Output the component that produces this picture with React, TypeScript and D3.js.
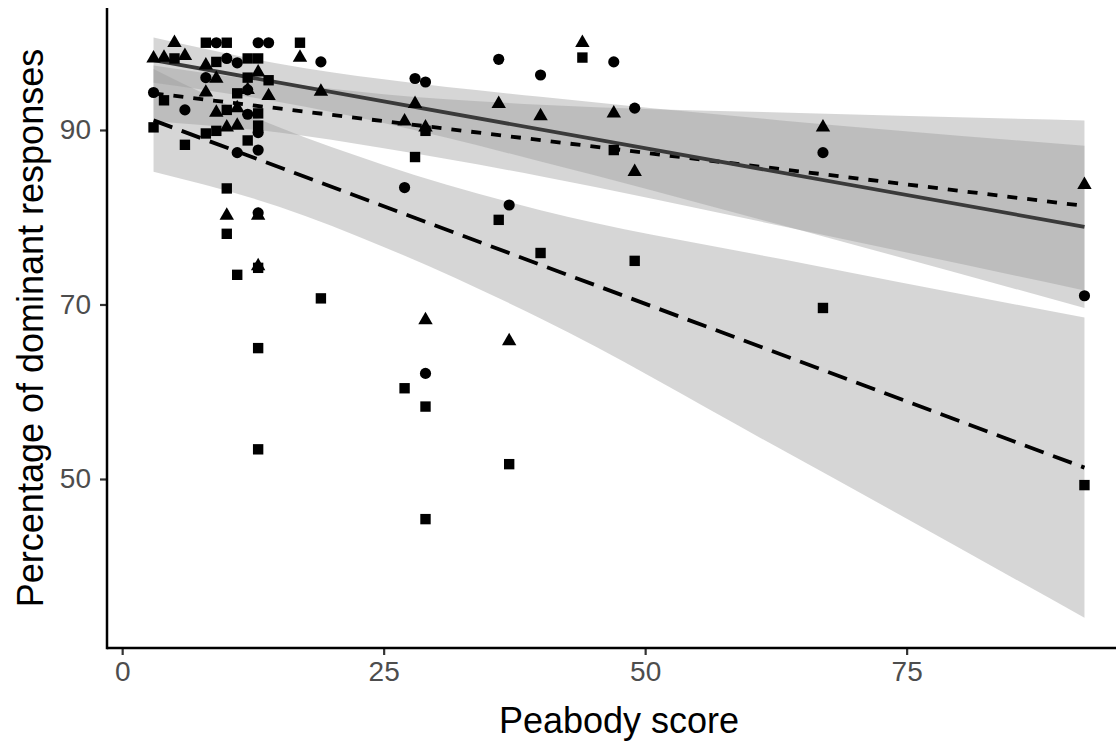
import React, { useEffect, useRef } from 'react';
import * as d3 from 'd3';

// points, one array pair per shape (Peabody score, % dominant responses)
const circleX = [3, 6, 8, 9, 10, 11, 11, 12, 12, 13, 13, 13, 13, 14, 19, 27, 28, 29, 29, 36, 37, 40, 47, 49, 67, 92];
const circleY = [94.3, 92.3, 96, 100, 98.2, 97.7, 87.4, 94.6, 91.8, 100, 89.7, 87.7, 80.5, 100, 97.8, 83.4, 95.9, 95.5, 62.1, 98.1, 81.4, 96.3, 97.8, 92.5, 87.4, 71];

const triangleX = [3, 4, 5, 6, 8, 8, 9, 9, 10, 10, 11, 11, 12, 13, 13, 13, 14, 17, 19, 27, 28, 29, 29, 36, 37, 40, 44, 47, 49, 67, 92];
const triangleY = [98.2, 98.3, 100, 98.5, 97.4, 94.3, 95.9, 92, 80.2, 90.3, 92.5, 90.5, 94.6, 96.6, 80.2, 74.4, 93.9, 98.3, 94.4, 91, 93, 90.3, 68.2, 93, 65.8, 91.6, 100, 91.9, 85.2, 90.3, 83.7];

const squareX = [3, 4, 5, 6, 8, 8, 9, 9, 10, 10, 10, 10, 11, 11, 12, 12, 12, 13, 13, 13, 13, 13, 13, 14, 17, 19, 27, 28, 29, 29, 29, 36, 37, 40, 44, 47, 49, 67, 92];
const squareY = [90.3, 93.4, 98.2, 88.3, 100, 89.6, 97.8, 89.9, 100, 92.3, 83.3, 78.1, 94.2, 73.4, 98.2, 96, 88.8, 98.2, 91.9, 90.5, 74.2, 65, 53.4, 95.7, 100, 70.7, 60.4, 86.9, 89.9, 58.3, 45.4, 79.7, 51.7, 75.9, 98.3, 87.7, 75, 69.6, 49.3];

// fitted lines (ends) and confidence bands
const lineX = [3, 92];
const solidFit = [98.0, 78.9];
const dottedFit = [94.2, 81.3];
const dashedFit = [91.1, 51.3];

const bandX = [3, 15, 25, 40, 63, 92];
const solidHi = [100.6, 97.6, 95.8, 93.8, 91.1, 88.2];
const solidLo = [95.4, 93.2, 90.8, 86.4, 79.1, 69.6];
const dottedHi = [97.4, 95.4, 94.1, 92.9, 92.0, 91.1];
const dottedLo = [91.0, 89.7, 87.9, 84.7, 79.0, 71.6];
const dashedHi = [97.0, 90.3, 86.0, 80.8, 75.2, 68.5];
const dashedLo = [85.2, 81.2, 76.6, 68.4, 53.4, 34.1];

const xTicks = [0, 25, 50, 75];
const yTicks = [50, 70, 90];

export default function App() {
  const ref = useRef<SVGSVGElement>(null);

  useEffect(() => {
    const width = 1116;
    const height = 742;
    const left = 107, right = 1131, top = 8, bottom = 648;
    const font = "'Liberation Sans', Arial, sans-serif";

    const x = d3.scaleLinear().domain([-1.45, 96.45]).range([left, right]);
    const y = d3.scaleLinear().domain([30.63, 103.98]).range([bottom, top]);

    const svg = d3.select(ref.current)
      .attr("width", width)
      .attr("height", height);
    svg.selectAll("*").remove();

    svg.append("rect").attr("width", width).attr("height", height).attr("fill", "white");

    svg.append("clipPath").attr("id", "panel")
      .append("rect")
      .attr("x", left).attr("y", top)
      .attr("width", right - left).attr("height", bottom - top);

    const g = svg.append("g").attr("clip-path", "url(#panel)");

    // confidence ribbons, grey60 at alpha .4 like geom_smooth
    const bands = [
      [dashedHi, dashedLo],
      [dottedHi, dottedLo],
      [solidHi, solidLo],
    ];
    bands.forEach(([hi, lo]) => {
      const ar = d3.area<number>()
        .x((d) => x(bandX[d]))
        .y0((d) => y(lo[d]))
        .y1((d) => y(hi[d]))
        .curve(d3.curveMonotoneX);
      g.append("path")
        .attr("d", ar(d3.range(bandX.length)))
        .attr("fill", "#999999")
        .attr("fill-opacity", 0.4);
    });

    const line = d3.line<number>()
      .x((d, i) => x(lineX[i]))
      .y((d) => y(d));

    g.append("path").attr("d", line(dashedFit))
      .attr("fill", "none").attr("stroke", "black").attr("stroke-width", 3.8)
      .attr("stroke-dasharray", "20,10");
    g.append("path").attr("d", line(dottedFit))
      .attr("fill", "none").attr("stroke", "black").attr("stroke-width", 3.8)
      .attr("stroke-dasharray", "10,10");
    g.append("path").attr("d", line(solidFit))
      .attr("fill", "none").attr("stroke", "#3a3a3a").attr("stroke-width", 3.8);

    const shapes = [
      { xs: circleX, ys: circleY, type: d3.symbolCircle, size: 98 },
      { xs: triangleX, ys: triangleY, type: d3.symbolTriangle, size: 90 },
      { xs: squareX, ys: squareY, type: d3.symbolSquare, size: 108 },
    ];
    shapes.forEach((s) => {
      const sym = d3.symbol().type(s.type).size(s.size);
      g.append("g")
        .selectAll("path")
        .data(d3.range(s.xs.length))
        .enter()
        .append("path")
        .attr("d", sym() as string)
        .attr("fill", "black")
        .attr("transform", (i) => `translate(${x(s.xs[i])},${y(s.ys[i])})`);
    });

    // axes
    const xAxis = svg.append("g")
      .attr("transform", `translate(0,${bottom})`)
      .call(d3.axisBottom(x).tickValues(xTicks).tickSize(7).tickPadding(6).tickFormat(d3.format("d")));
    xAxis.select(".domain").remove();
    xAxis.selectAll(".tick line").attr("stroke", "#333333").attr("stroke-width", 2.2);
    xAxis.selectAll(".tick text")
      .attr("fill", "#4d4d4d").attr("font-size", 28).attr("font-family", font);

    const yAxis = svg.append("g")
      .attr("transform", `translate(${left},0)`)
      .call(d3.axisLeft(y).tickValues(yTicks).tickSize(7).tickPadding(9).tickFormat(d3.format("d")));
    yAxis.select(".domain").remove();
    yAxis.selectAll(".tick line").attr("stroke", "#333333").attr("stroke-width", 2.2);
    yAxis.selectAll(".tick text")
      .attr("fill", "#4d4d4d").attr("font-size", 28).attr("font-family", font);

    svg.append("line")
      .attr("x1", left).attr("x2", width).attr("y1", bottom).attr("y2", bottom)
      .attr("stroke", "black").attr("stroke-width", 2.5);
    svg.append("line")
      .attr("x1", left).attr("x2", left).attr("y1", top).attr("y2", bottom + 1.25)
      .attr("stroke", "black").attr("stroke-width", 2.5);

    svg.append("text")
      .attr("x", (left + right) / 2).attr("y", 733)
      .attr("text-anchor", "middle")
      .attr("font-family", font).attr("font-size", 36).attr("fill", "black")
      .text("Peabody score");

    svg.append("text")
      .attr("transform", `translate(43,${(top + bottom) / 2}) rotate(-90)`)
      .attr("text-anchor", "middle")
      .attr("font-family", font).attr("font-size", 36).attr("fill", "black")
      .text("Percentage of dominant responses");
  }, []);

  return (
    <div style={{ position: "absolute", left: 0, top: 0 }}>
      <svg ref={ref} style={{ display: "block" }} />
    </div>
  );
}
